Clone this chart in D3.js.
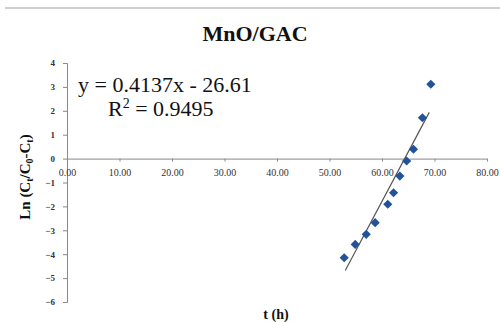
<!DOCTYPE html>
<html>
<head>
<meta charset="utf-8">
<script src="https://cdn.jsdelivr.net/npm/d3@7"></script>
<style>
  body { margin: 0; background: #fff; }
  svg text { font-family: "Liberation Serif", "Times New Roman", serif; }
</style>
</head>
<body>
<div id="chart"></div>
<script>
// data
var times = [52.8, 54.9, 57.0, 58.7, 61.1, 62.2, 63.4, 64.7, 66.0, 67.7, 69.3];
var lnValues = [-4.15, -3.59, -3.17, -2.68, -1.91, -1.43, -0.73, -0.10, 0.39, 1.71, 3.11];
var xTicks = [0, 10, 20, 30, 40, 50, 60, 70, 80];
var yTicks = [4, 3, 2, 1, 0, -1, -2, -3, -4, -5, -6];
var slope = 0.4137, intercept = -26.61;
var trendRange = [53, 69];

var svgWidth = 500, svgHeight = 322;

var svg = d3.select("#chart")
    .append("svg")
    .attr("width", svgWidth)
    .attr("height", svgHeight);

// thin grey rule at the top
svg.append("line")
    .attr("x1", 5).attr("x2", 500)
    .attr("y1", 8).attr("y2", 8)
    .attr("stroke", "#d0d0d0")
    .attr("stroke-width", 2);

var x = d3.scaleLinear().domain([0, 80]).range([67, 487]);
var y = d3.scaleLinear().domain([-6, 4]).range([302, 63]);

// title
svg.append("text")
    .attr("x", 255)
    .attr("y", 41)
    .attr("text-anchor", "middle")
    .attr("font-size", 22)
    .attr("font-weight", "bold")
    .attr("fill", "#111")
    .text("MnO/GAC");

// y axis
var yAxis = svg.append("g")
    .attr("transform", "translate(" + x(0) + ",0)")
    .call(d3.axisLeft(y).tickValues(yTicks).tickSize(4).tickPadding(8).tickFormat(d3.format("d")));
yAxis.select(".domain").attr("stroke", "#888");
yAxis.selectAll(".tick line").attr("stroke", "#888");
yAxis.selectAll("text")
    .attr("font-size", 9)
    .attr("font-weight", "bold")
    .attr("fill", "#333");

// x axis crosses at y = 0
var xAxis = svg.append("g")
    .attr("transform", "translate(0," + y(0) + ")")
    .call(d3.axisBottom(x).tickValues(xTicks).tickSize(3).tickPadding(7).tickSizeOuter(0).tickFormat(d3.format(".2f")));
xAxis.select(".domain").attr("stroke", "#888");
xAxis.selectAll(".tick line").attr("stroke", "#888");
xAxis.selectAll("text")
    .attr("font-size", 10)
    .attr("fill", "#333");

// trend line
svg.append("line")
    .attr("x1", x(trendRange[0]))
    .attr("y1", y(slope * trendRange[0] + intercept))
    .attr("x2", x(trendRange[1]))
    .attr("y2", y(slope * trendRange[1] + intercept))
    .attr("stroke", "#555")
    .attr("stroke-width", 1.2);

// points
var points = times.map(function (t, i) { return { t: t, v: lnValues[i] }; });
svg.selectAll(".pt")
    .data(points)
    .enter()
    .append("path")
    .attr("class", "pt")
    .attr("d", d3.symbol().type(d3.symbolSquare).size(42))
    .attr("transform", function (d) {
        return "translate(" + x(d.t) + "," + y(d.v) + ") rotate(45)";
    })
    .attr("fill", "#22529a");

// equation
svg.append("text")
    .attr("x", 78)
    .attr("y", 92)
    .attr("font-size", 22)
    .attr("fill", "#111")
    .text("y = 0.4137x - 26.61");

var r2 = svg.append("text")
    .attr("x", 108)
    .attr("y", 116)
    .attr("font-size", 22)
    .attr("fill", "#111");
r2.append("tspan").text("R");
r2.append("tspan").attr("font-size", 14).attr("dy", -8).text("2");
r2.append("tspan").attr("dy", 8).text(" = 0.9495");

// axis titles
svg.append("text")
    .attr("x", 276)
    .attr("y", 319)
    .attr("text-anchor", "middle")
    .attr("font-size", 14)
    .attr("font-weight", "bold")
    .attr("fill", "#111")
    .text("t (h)");

var yl = svg.append("text")
    .attr("transform", "translate(30,177) rotate(-90)")
    .attr("text-anchor", "middle")
    .attr("font-size", 15)
    .attr("font-weight", "bold")
    .attr("fill", "#111");
yl.append("tspan").text("Ln (C");
yl.append("tspan").attr("font-size", 10).attr("dy", 3).text("t");
yl.append("tspan").attr("dy", -3).text("/C");
yl.append("tspan").attr("font-size", 10).attr("dy", 3).text("0");
yl.append("tspan").attr("dy", -3).text("-C");
yl.append("tspan").attr("font-size", 10).attr("dy", 3).text("t");
yl.append("tspan").attr("dy", -3).text(")");
</script>
</body>
</html>
